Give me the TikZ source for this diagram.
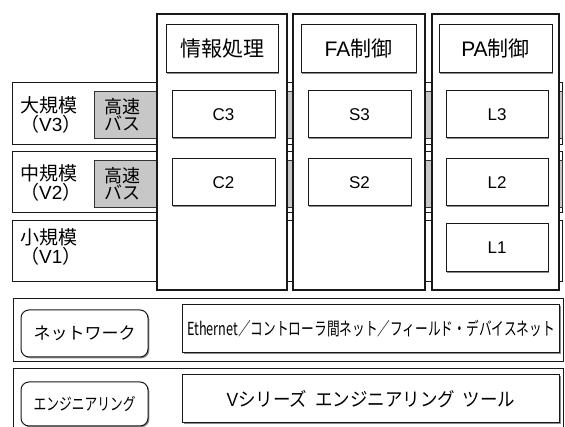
\documentclass[tikz,border=0pt]{standalone}
\usepackage{fontspec}
\setmainfont{Noto Sans CJK JP}
\newfontfamily\latf{Liberation Sans}
\usetikzlibrary{shadows}
\tikzset{
  bar/.style={draw=black!90, line width=1pt, fill=white, rectangle, inner sep=0pt},
  bus/.style={draw=black!80, line width=0.8pt, fill=black!22, rectangle, inner sep=0pt},
  col/.style={draw=black!90, line width=1.2pt, fill=white, rectangle, inner sep=0pt,
     drop shadow={shadow xshift=1pt, shadow yshift=-1pt, fill=black!45, opacity=1}},
  ibox/.style={draw=black!90, line width=1pt, fill=white, rectangle, inner sep=0pt,
     drop shadow={shadow xshift=1.3pt, shadow yshift=-1.3pt, fill=black!45, opacity=1}},
  rbox/.style={ibox, rounded corners=8pt},
  lbl/.style={inner sep=0pt, align=left, anchor=north west, font=\fontsize{19}{19}\selectfont},
  bustxt/.style={inner sep=0pt, align=center, font=\fontsize{18}{17.5}\selectfont},
  hdr/.style={ibox, minimum width=#1, minimum height=48pt, font=\fontsize{21}{21}\selectfont},
  unit/.style={ibox, minimum width=103pt, minimum height=47pt, font=\latf\fontsize{17}{17}\selectfont},
}
\begin{document}
\begin{tikzpicture}[x=1pt, y=-1pt]
\useasboundingbox (0,0) rectangle (565,427);
\clip (0,0) rectangle (565,427);
\fill[white] (0,0) rectangle (565,427);
% row bars
\node[bar, minimum width=550pt, minimum height=62pt] (v3) at (287,114) {};
\node[bus, minimum width=468pt, minimum height=47pt] (bus3) at (328,114.5) {};
\node[bar, minimum width=550pt, minimum height=61pt] (v2) at (287,182.5) {};
\node[bus, minimum width=468pt, minimum height=47pt] (bus2) at (328,183.5) {};
\node[bar, minimum width=550pt, minimum height=61pt] (v1) at (287,251.5) {};
% row labels
\node[lbl] (t3) at (20,96) {大規模\\（{\latf V3}）};
\node[lbl] (t2) at (20,164) {中規模\\（{\latf V2}）};
\node[lbl] (t1) at (20,228) {小規模\\（{\latf V1}）};
\node[bustxt] (b3) at (122,114.5) {高速\\バス};
\node[bustxt] (b2) at (122,183.5) {高速\\バス};
% columns
\node[col, minimum width=130pt, minimum height=276pt] (c1) at (222,152) {};
\node[col, minimum width=132pt, minimum height=276pt] (c2) at (359,152) {};
\node[col, minimum width=127pt, minimum height=276pt] (c3) at (495.5,152) {};
% headers
\node[hdr=112pt] (h1) at (222,49) {情報処理};
\node[hdr=115pt] (h2) at (358.5,49) {{\latf FA}制御};
\node[hdr=113pt] (h3) at (495.5,49) {{\latf PA}制御};
% inner boxes
\node[unit] (C3) at (223.5,114.5) {C3};
\node[unit] (C2) at (223.5,182.5) {C2};
\node[unit] (S3) at (359.5,114.5) {S3};
\node[unit] (S2) at (359.5,182.5) {S2};
\node[unit, minimum width=102pt] (L3) at (497,114.5) {L3};
\node[unit, minimum width=102pt] (L2) at (497,182.5) {L2};
\node[unit, minimum width=102pt, minimum height=48pt] (L1) at (497,248) {L1};
% bottom bands
\node[bar, minimum width=550pt, minimum height=63pt] (net) at (288,330.5) {};
\node[rbox, minimum width=127pt, minimum height=47pt, font=\fontsize{17}{17}\selectfont] (netl) at (84.5,333.5) {ネットワーク};
\node[ibox, minimum width=377pt, minimum height=48pt, font=\fontsize{18}{18}\selectfont] (eth) at (371,329) {\scalebox{0.705}[1]{Ethernet／コントローラ間ネット／フィールド・デバイスネット}};
\node[bar, minimum width=550pt, minimum height=71pt] (eng) at (288,404.5) {};
\node[rbox, minimum width=127pt, minimum height=44pt, font=\fontsize{17}{17}\selectfont] (engl) at (84.5,404) {\scalebox{0.75}[1]{エンジニアリング}};
\node[ibox, minimum width=377pt, minimum height=48pt, font=\fontsize{19}{19}\selectfont] (vs) at (371,399) {\scalebox{0.92}[1]{{\latf V}シリーズ\hspace{0.45em}エンジニアリング\hspace{0.45em}ツール}};
\end{tikzpicture}
\end{document}
